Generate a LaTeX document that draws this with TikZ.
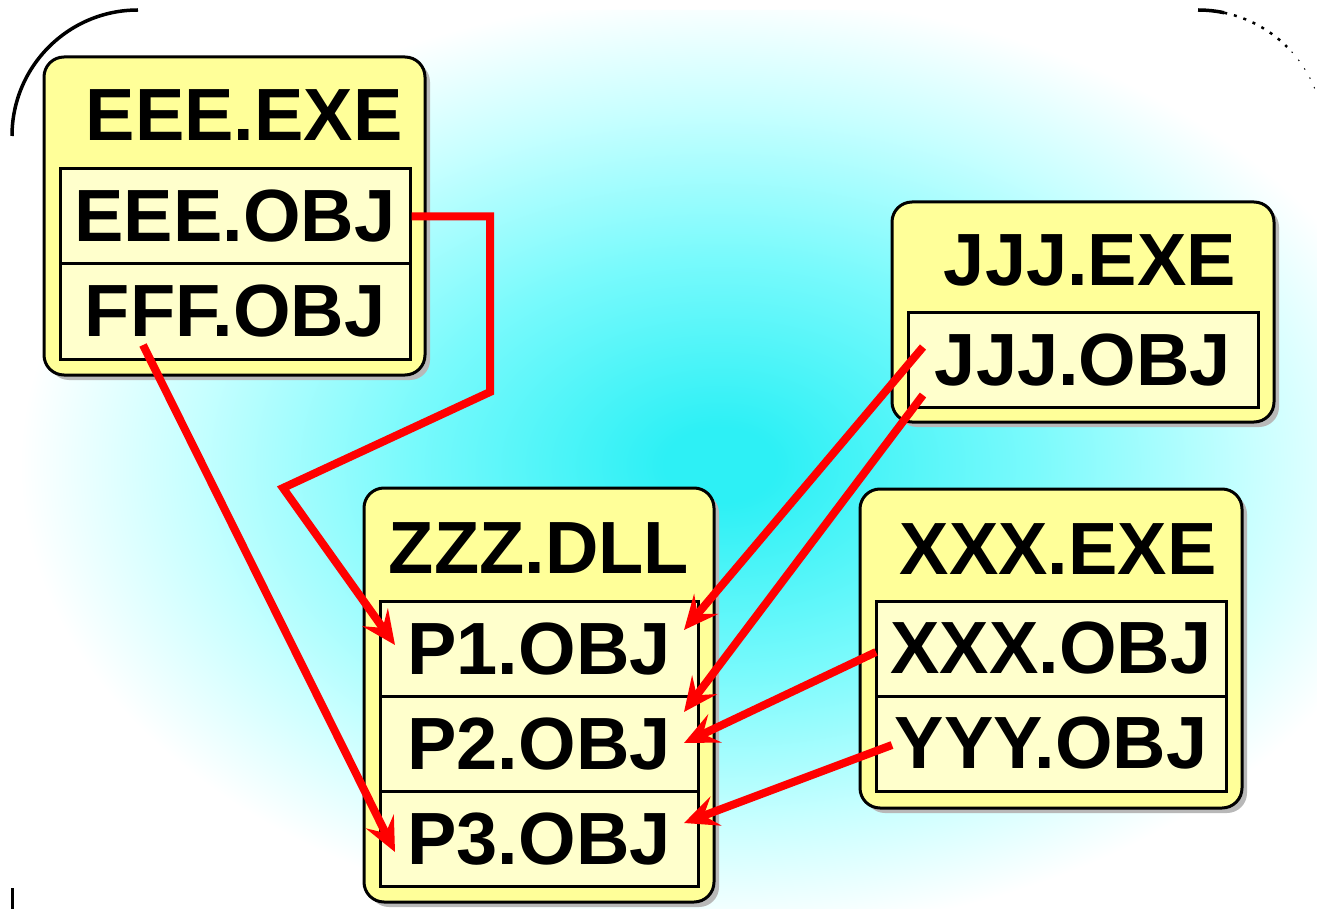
\documentclass[tikz,border=0pt]{standalone}
\usepackage{fontspec}
\setmainfont{Liberation Sans}
\usetikzlibrary{arrows.meta,shadows}
\definecolor{cyanc}{RGB}{45,240,245}
\definecolor{cmid}{RGB}{120,250,252}
\definecolor{clight}{RGB}{200,255,255}
\definecolor{boxyellow}{RGB}{255,255,153}
\definecolor{rowyellow}{RGB}{255,255,204}
\pgfdeclareradialshading{bgcyan}{\pgfpoint{0bp}{0bp}}{color(0bp)=(cyanc); color(2bp)=(cyanc); color(11bp)=(cmid); color(19bp)=(clight); color(25bp)=(white); color(50bp)=(white)}
\tikzset{
  outerbox/.style={draw=black, line width=3pt, fill=boxyellow, rounded corners=20pt,
    drop shadow={shadow xshift=5pt, shadow yshift=-5pt, fill=black!28, opacity=1}},
  rowbox/.style={draw=black, line width=3pt, fill=rowyellow, inner sep=0pt,
    font=\fontsize{74}{80}\selectfont\bfseries},
  titletext/.style={anchor=base, inner sep=0pt, font=\fontsize{74}{80}\selectfont\bfseries},
  link/.style={draw=red, line width=8pt, line join=miter,
    -{Stealth[length=34pt, width=31pt, inset=13pt]}}
}
\begin{document}
\begin{tikzpicture}[x=1pt, y=-1pt]
\useasboundingbox (0,0) rectangle (1317,909);
% background
\begin{scope}
  \clip[rounded corners=126pt] (12,10) rectangle (1324,1040);
  \fill[white] (0,0) rectangle (1317,909);
  \shade[shading=bgcyan] (720,465) ellipse [x radius=700, y radius=470];
\end{scope}
\draw[line width=3.5pt] (12,136) arc[start angle=180, end angle=270, radius=126];
\draw[line width=3.5pt] (1198,10) arc[start angle=270, end angle=282, radius=126];
\draw[line width=2.5pt, dash pattern=on 3pt off 7pt] (1198,136) ++(282:126) arc[start angle=282, end angle=315, radius=126];
\draw[line width=1pt, dash pattern=on 1.5pt off 9pt] (1198,136) ++(318:126) arc[start angle=318, end angle=340, radius=126];
\draw[line width=3pt] (12,888) -- (12,909);

% outer boxes
\node[outerbox, minimum width=381pt, minimum height=318pt] (eee) at (234.5,216) {};
\node[outerbox, minimum width=382pt, minimum height=220pt] (jjj) at (1083,312) {};
\node[outerbox, minimum width=350pt, minimum height=414pt] (zzz) at (539,695) {};
\node[outerbox, minimum width=382pt, minimum height=319pt] (xxx) at (1051,648.5) {};

% titles
\node[titletext] (eeet) at (244,141) {EEE.EXE};
\node[titletext] (jjjt) at (1090,286) {JJJ.EXE};
\node[titletext] (zzzt) at (539,573) {ZZZ.DLL};
\node[titletext] (xxxt) at (1058,574) {XXX.EXE};

% rows
\node[rowbox, minimum width=350pt, minimum height=95pt] (eeeobj) at (235,216.5) {EEE.OBJ};
\node[rowbox, minimum width=350pt, minimum height=95pt] (fffobj) at (235,311.5) {FFF.OBJ};
\node[rowbox, minimum width=350pt, minimum height=94pt] (jjjobj) at (1083,360) {JJJ.OBJ};
\node[rowbox, minimum width=318pt, minimum height=95.3pt] (p1) at (539,648.7) {P1.OBJ};
\node[rowbox, minimum width=318pt, minimum height=95.3pt] (p2) at (539,744) {P2.OBJ};
\node[rowbox, minimum width=318pt, minimum height=95.3pt] (p3) at (539,839.3) {P3.OBJ};
\node[rowbox, minimum width=350pt, minimum height=95pt] (xxxobj) at (1051,648.5) {XXX.OBJ};
\node[rowbox, minimum width=350pt, minimum height=95pt] (yyyobj) at (1051,743.5) {YYY.OBJ};

% connector points
\coordinate (c1) at (490,216.5);
\coordinate (c2) at (490,392);
\coordinate (c3) at (283,488);
\coordinate (t1) at (395,645);
\coordinate (f1) at (143,345);
\coordinate (t3) at (395,852);
\coordinate (j1) at (923,347);
\coordinate (t2) at (684,630);
\coordinate (j2) at (923,395);
\coordinate (t4) at (684,712);
\coordinate (x1) at (876,652);
\coordinate (t5) at (684,743);
\coordinate (y1) at (892,745);
\coordinate (t6) at (684,823);

\draw[link] (eeeobj.east) -- (c1) -- (c2) -- (c3) -- (t1);
\draw[link] (f1) -- (t3);
\draw[link] (j1) -- (t2);
\draw[link] (j2) -- (t4);
\draw[link] (x1) -- (t5);
\draw[link] (y1) -- (t6);
\end{tikzpicture}
\end{document}
